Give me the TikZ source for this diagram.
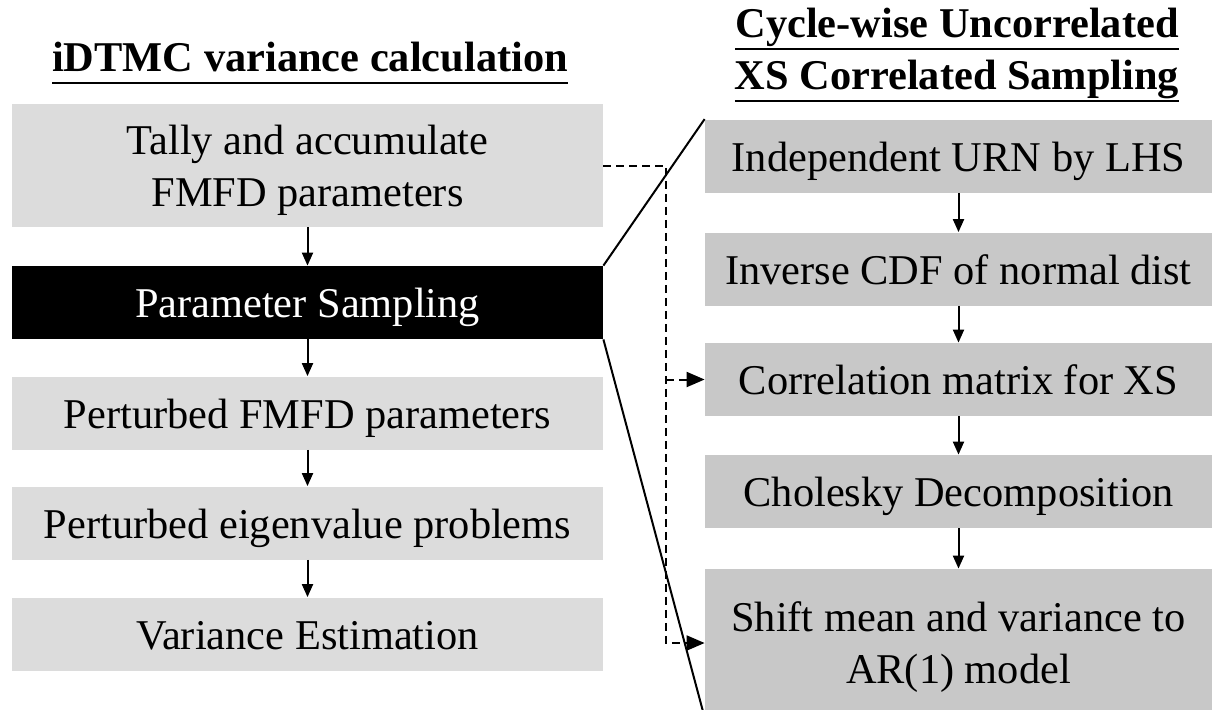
\documentclass[tikz,border=0pt]{standalone}
\usepackage{fontspec}
\setmainfont{Liberation Serif}
\usetikzlibrary{arrows.meta}
\newcommand{\headline}[1]{\leavevmode\setbox0\hbox{#1}\rlap{\rule[-6.6pt]{\wd0}{1.2pt}}\box0}
\begin{document}
\begin{tikzpicture}[x=0.5pt, y=-0.5pt,
    stage/.style ={rectangle, fill=stagegray, inner sep=0pt, minimum width=295.5pt,
                   minimum height=36.5pt, text height=15pt, text depth=0pt, align=center,
                   font=\fontsize{21.2}{26}\selectfont},
    twoline/.style ={text height=40.5pt},
    substage/.style ={stage, fill=subgray, minimum width=253.5pt},
    heading/.style ={align=center, font=\fontsize{21.2}{26}\selectfont\bfseries},
    flow/.style ={line width=1pt, -{Triangle[width=5.5pt,length=6.5pt]}},
    feed/.style ={line width=1pt, dash pattern=on 4pt off 2.5pt,
                  -{Triangle[width=7.5pt,length=9pt]}}]
   \definecolor{stagegray}{HTML}{DCDCDC}
   \definecolor{subgray}{HTML}{C8C8C8}
   \useasboundingbox (0,0) rectangle (1212,709);
   \node[heading, anchor=base] (lefttitle) at (310,71) {\headline{iDTMC variance calculation}};
   \node[heading, anchor=base] (righttitle) at (957,89)
        {\headline{Cycle-wise Uncorrelated}\\\headline{XS Correlated Sampling}};
   \node[stage, twoline, minimum height=61.5pt] (tally) at (307.5,165.5) {Tally and accumulate\\FMFD parameters};
   \node[stage, fill=black, text=white] (sampling) at (307.5,302.5) {Parameter Sampling};
   \node[stage] (perturbed) at (307.5,413) {Perturbed FMFD parameters};
   \node[stage] (eigen) at (307.5,523) {Perturbed eigenvalue problems};
   \node[stage] (estimate) at (307.5,634) {Variance Estimation};
   \node[substage] (urn) at (958.5,156) {Independent URN by LHS};
   \node[substage] (invcdf) at (958.5,269) {Inverse CDF of normal dist};
   \node[substage] (corr) at (958.5,379.5) {Correlation matrix for XS};
   \node[substage] (chol) at (958.5,491.5) {Cholesky Decomposition};
   \node[substage, twoline, minimum height=74pt] (shift) at (958.5,643) {Shift mean and variance to\\AR(1) model};
   \coordinate (bend) at (666,165.5);
   \draw[flow] (tally) to (sampling);
   \draw[flow] (sampling) to (perturbed);
   \draw[flow] (perturbed) to (eigen);
   \draw[flow] (eigen) to (estimate);
   \draw[flow] (urn) to (invcdf);
   \draw[flow] (invcdf) to (corr);
   \draw[flow] (corr) to (chol);
   \draw[flow] (chol) to (shift);
   \draw[line width=1pt] (sampling.north east) -- (urn.north west);
   \draw[line width=1pt] (sampling.south east) -- (shift.south west);
   \draw[feed] (tally.east) -- (bend) |- (shift.west);
   \draw[feed] (bend |- corr.west) -- (corr.west);
\end{tikzpicture}
\end{document}
